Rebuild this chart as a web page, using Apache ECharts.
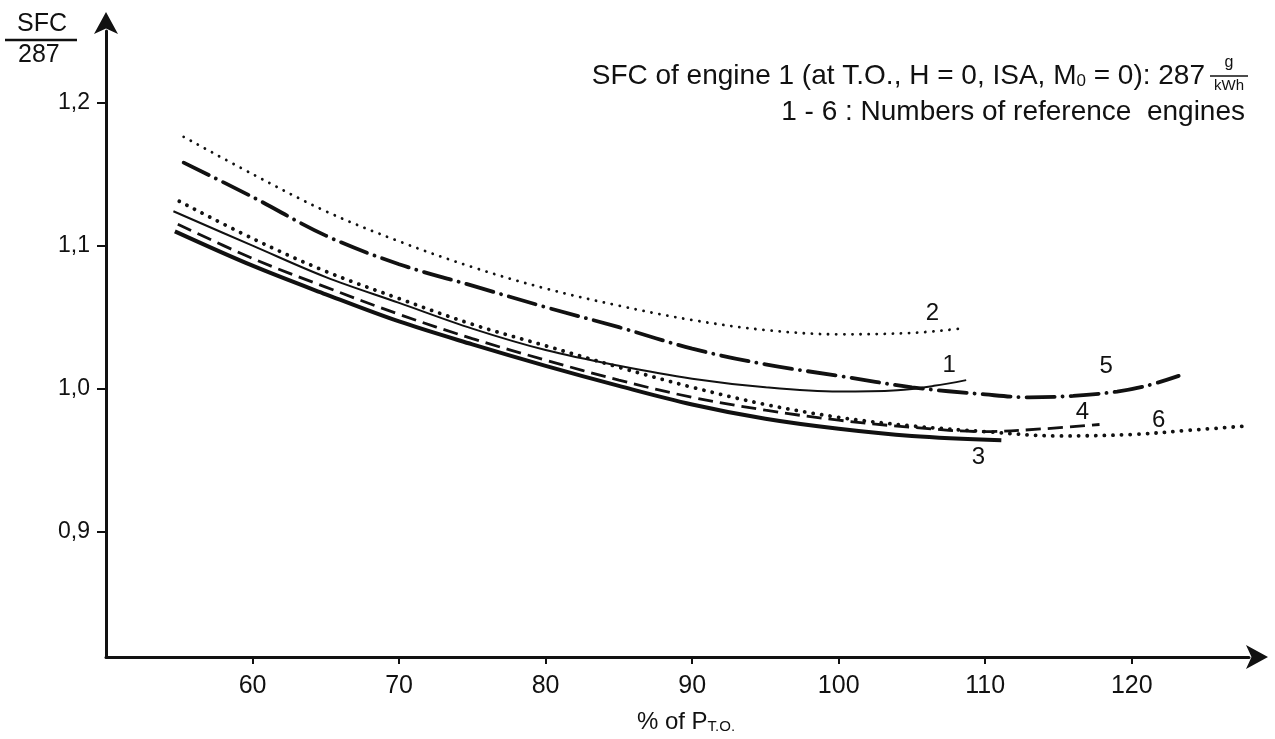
<!DOCTYPE html>
<html>
<head>
<meta charset="utf-8">
<script src="https://cdn.jsdelivr.net/npm/echarts@6/dist/echarts.min.js"></script>
<style>
  html, body { margin: 0; padding: 0; background: #fff; }
  #chart { width: 1275px; height: 739px; }
</style>
</head>
<body>
<div id="chart"></div>
<script>
// Specific fuel consumption relative to engine 1, versus % of take-off power
const pctTicks = [60, 70, 80, 90, 100, 110, 120];
const sfcTicks = [0.9, 1.0, 1.1, 1.2];

const engine1 = [[54.6, 1.124], [60, 1.100], [65, 1.078], [70, 1.060], [75, 1.042], [80, 1.027],
  [85, 1.016], [90, 1.007], [95, 1.001], [100, 0.998], [104, 0.999], [106.5, 1.002], [108.7, 1.006]];
const engine2 = [[55.3, 1.176], [60, 1.150], [65, 1.124], [70, 1.103], [75, 1.085], [80, 1.070],
  [85, 1.058], [90, 1.048], [95, 1.041], [100, 1.038], [105, 1.039], [108.3, 1.042]];
const engine3 = [[54.7, 1.110], [60, 1.086], [65, 1.066], [70, 1.047], [75, 1.031], [80, 1.016],
  [85, 1.002], [90, 0.989], [95, 0.979], [100, 0.972], [105, 0.967], [111.1, 0.964]];
const engine4 = [[54.9, 1.115], [60, 1.091], [65, 1.071], [70, 1.052], [75, 1.035], [80, 1.020],
  [85, 1.006], [90, 0.994], [95, 0.985], [100, 0.978], [105, 0.973], [110, 0.970], [114, 0.972], [117.8, 0.975]];
const engine5 = [[55.3, 1.158], [60, 1.134], [65, 1.107], [70, 1.087], [75, 1.072], [80, 1.057],
  [85, 1.043], [90, 1.028], [95, 1.017], [100, 1.009], [105, 1.001], [110, 0.996], [113, 0.994],
  [116, 0.995], [119, 0.998], [121, 1.002], [123.2, 1.009]];
const engine6 = [[55, 1.131], [60, 1.105], [65, 1.082], [70, 1.063], [75, 1.045], [80, 1.030],
  [85, 1.015], [90, 1.001], [95, 0.989], [100, 0.980], [105, 0.974], [110, 0.970], [115, 0.967],
  [120, 0.968], [124, 0.971], [127.9, 0.974]];

const INK = '#111';
const FONT = '"Liberation Sans", Arial, sans-serif';

// curve number tag: which data point it sits next to, and pixel offset from it
function curve(name, data, lineStyle, tagIndex, tagOffset) {
  return {
    type: 'line',
    name: name,
    data: data,
    smooth: 0.35,
    showSymbol: false,
    silent: true,
    lineStyle: Object.assign({ color: INK }, lineStyle),
    markPoint: {
      symbol: 'circle',
      symbolSize: 0,
      silent: true,
      label: {
        show: true,
        formatter: name,
        color: INK,
        fontFamily: FONT,
        fontSize: 24,
        offset: tagOffset
      },
      data: [{ coord: data[tagIndex] }]
    }
  };
}

const chart = echarts.init(document.getElementById('chart'), null, { renderer: 'canvas' });

chart.setOption({
  animation: false,
  backgroundColor: '#fff',
  grid: { left: 106, right: 26, top: 31, bottom: 82, containLabel: false },
  xAxis: {
    type: 'value',
    min: 50,
    max: 128,
    splitLine: { show: false },
    axisLine: {
      lineStyle: { color: INK, width: 3 },
      symbol: ['none', 'arrow'],
      symbolSize: [18, 22],
      symbolOffset: [0, 19]
    },
    axisTick: { customValues: pctTicks, length: 7, lineStyle: { color: INK, width: 2 } },
    axisLabel: {
      customValues: pctTicks,
      color: INK,
      fontFamily: FONT,
      fontSize: 25,
      margin: 17
    }
  },
  yAxis: {
    type: 'value',
    min: 0.8125,
    max: 1.25,
    splitLine: { show: false },
    axisLine: {
      lineStyle: { color: INK, width: 3 },
      symbol: ['none', 'arrow'],
      symbolSize: [18, 22],
      symbolOffset: [0, 19]
    },
    axisTick: { customValues: sfcTicks, length: 9, lineStyle: { color: INK, width: 2 } },
    axisLabel: {
      customValues: sfcTicks,
      color: INK,
      fontFamily: FONT,
      fontSize: 23,
      margin: 16,
      formatter: v => v.toFixed(1).replace('.', ',')
    }
  },
  series: [
    curve('2', engine2, { width: 2.8, type: [0.1, 8], cap: 'round' }, 11, [-28, -15]),
    curve('5', engine5, { width: 3.8, type: [28, 8, 0.1, 8], cap: 'round' }, 14, [-11, -25]),
    curve('6', engine6, { width: 3.8, type: [0.1, 8.5], cap: 'round' }, 13, [27, -14]),
    curve('1', engine1, { width: 2 }, 12, [-17, -15]),
    curve('4', engine4, { width: 2.8, type: [15, 7] }, 13, [-17, -12]),
    curve('3', engine3, { width: 4 }, 11, [-23, 17])
  ],
  graphic: [
    // y-axis quantity: SFC / 287
    { type: 'text', left: 17, top: 12, style: { text: 'SFC', font: '25px ' + FONT, fill: INK } },
    { type: 'line', shape: { x1: 5, y1: 40, x2: 77, y2: 40 }, style: { stroke: INK, lineWidth: 2.5 } },
    { type: 'text', left: 18, top: 43, style: { text: '287', font: '25px ' + FONT, fill: INK } },
    // reference value note
    {
      type: 'text', right: 70, top: 62,
      style: {
        text: '{a|SFC of engine 1 (at T.O., H = 0, ISA, M}{s|0}{a| = 0): 287}',
        fill: INK,
        rich: {
          a: { font: '28px ' + FONT, fill: INK },
          s: { font: '17px ' + FONT, fill: INK, padding: [11, 0, 0, 0] }
        }
      }
    },
    { type: 'text', x: 1229, y: 55, style: { text: 'g', font: '16px ' + FONT, fill: INK, align: 'center' } },
    { type: 'line', shape: { x1: 1210, y1: 76, x2: 1248, y2: 76 }, style: { stroke: INK, lineWidth: 1.5 } },
    { type: 'text', x: 1229, y: 78, style: { text: 'kWh', font: '15px ' + FONT, fill: INK, align: 'center' } },
    {
      type: 'text', right: 30, top: 98,
      style: { text: '1 - 6 : Numbers of reference  engines', font: '28px ' + FONT, fill: INK }
    },
    // x-axis quantity
    {
      type: 'text', x: 686, y: 722,
      style: {
        text: '{a|% of P}{s|T.O.}',
        align: 'center',
        verticalAlign: 'middle',
        rich: {
          a: { font: '24px ' + FONT, fill: INK },
          s: { font: '15px ' + FONT, fill: INK, padding: [9, 0, 0, 0] }
        }
      }
    }
  ]
});
</script>
</body>
</html>
